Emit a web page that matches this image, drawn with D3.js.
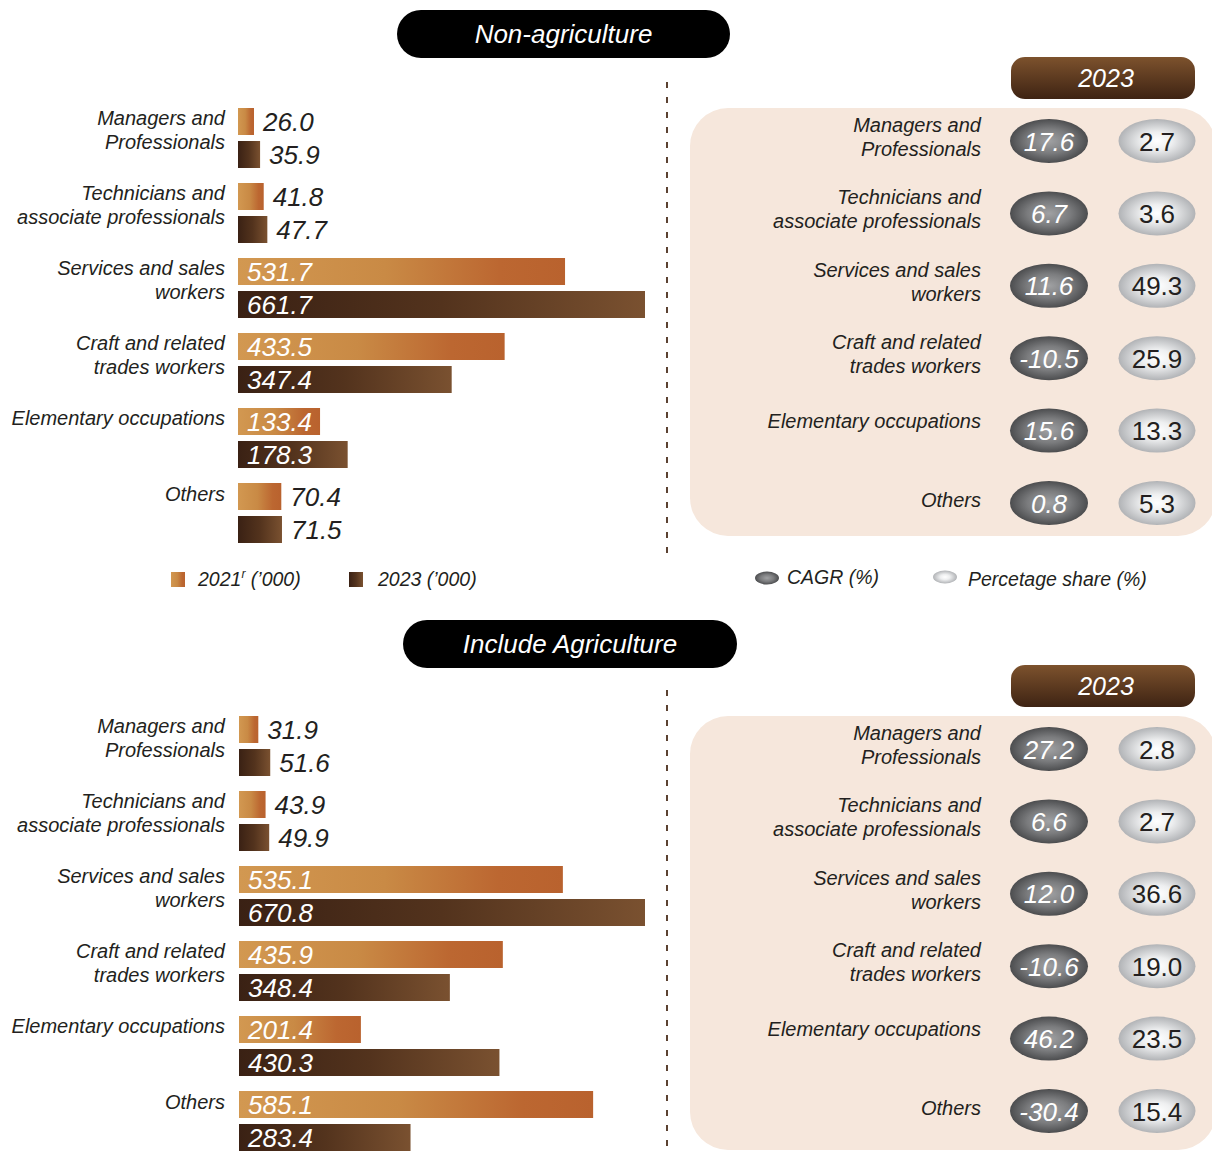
<!DOCTYPE html>
<html><head><meta charset="utf-8">
<script src="https://cdn.jsdelivr.net/npm/d3@7"></script>
<style>
html,body{margin:0;padding:0;background:#fff;}
text{font-family:"Liberation Sans",Arial,sans-serif;}
</style></head>
<body>
<script>
const categories = ["Managers and|Professionals","Technicians and|associate professionals","Services and sales|workers","Craft and related|trades workers","Elementary occupations","Others"];
const nonAg2021 = [26.0, 41.8, 531.7, 433.5, 133.4, 70.4];
const nonAg2023 = [35.9, 47.7, 661.7, 347.4, 178.3, 71.5];
const nonAgCagr = [17.6, 6.7, 11.6, -10.5, 15.6, 0.8];
const nonAgShare = [2.7, 3.6, 49.3, 25.9, 13.3, 5.3];
const inclAg2021 = [31.9, 43.9, 535.1, 435.9, 201.4, 585.1];
const inclAg2023 = [51.6, 49.9, 670.8, 348.4, 430.3, 283.4];
const inclAgCagr = [27.2, 6.6, 12.0, -10.6, 46.2, -30.4];
const inclAgShare = [2.8, 2.7, 36.6, 19.0, 23.5, 15.4];
const sectionTitles = ["Non-agriculture","Include Agriculture"];
const yearLabel = "2023";
const legendBar = ["2021", "2023 (’000)"];
const legendEll = ["CAGR (%)", "Percetage share (%)"];

const W = 1212, H = 1155;
const svg = d3.select("body").append("svg").attr("width", W).attr("height", H);
const defs = svg.append("defs");

function lin(id, stops, vertical){
  const g = defs.append("linearGradient").attr("id", id)
    .attr("x1",0).attr("y1",0).attr("x2",vertical?0:1).attr("y2",vertical?1:0);
  stops.forEach(s=>g.append("stop").attr("offset",s[0]).attr("stop-color",s[1]));
}
lin("g21", [[0,"#d29851"],[0.45,"#c98a45"],[0.8,"#bc6731"],[1,"#b9622e"]]);
lin("g23", [[0,"#3a2114"],[0.5,"#53331d"],[1,"#7a5130"]]);
lin("ghead", [[0,"#7d522d"],[1,"#3e2313"]], true);
function rad(id, stops){
  const g = defs.append("radialGradient").attr("id", id).attr("cx","50%").attr("cy","50%").attr("r","50%");
  stops.forEach(s=>g.append("stop").attr("offset",s[0]).attr("stop-color",s[1]));
}
rad("gdark", [[0,"#a0a1a3"],[0.55,"#7b7c7e"],[1,"#4c4d4f"]]);
rad("glight", [[0,"#ffffff"],[0.4,"#eeeff0"],[1,"#b1b3b6"]]);

const txtColor = "#231f20";

function section(opts){
  const {off, titleX0, titleX1, v21, v23, cagr, share, title, legend} = opts;
  const g = svg.append("g");
  // title pill
  g.append("rect").attr("x", titleX0).attr("y", 10+off.t).attr("width", titleX1-titleX0).attr("height", 48)
    .attr("rx", 24).attr("fill", "#000");
  g.append("text").attr("x", (titleX0+titleX1)/2).attr("y", 43+off.t).attr("text-anchor","middle")
    .attr("font-size", 26).attr("font-style","italic").attr("fill","#fff").text(title);

  const o = off.b;
  const y = d3.scaleBand().domain(categories).range([108+o, 108+o+450]);
  const xmax = d3.max(v21.concat(v23));
  const x0 = opts.barX;
  const x = d3.scaleLinear().domain([0, xmax]).range([0, 645 - x0]);
  const barH = 27;

  categories.forEach(c=>{
    const lines = c.split("|");
    const t = g.append("text").attr("text-anchor","end").attr("font-size",20).attr("font-style","italic").attr("fill",txtColor);
    lines.forEach((l,i)=>t.append("tspan").attr("x",225).attr("y", y(c)+17+(c==="Others"?1:0)+i*24).text(l));
  });

  const series = [{vals:v21, grad:"g21", dy:0},{vals:v23, grad:"g23", dy:33}];
  series.forEach(s=>{
    categories.forEach((c,i)=>{
      const v = s.vals[i];
      const yy = y(c)+s.dy;
      const w = x(v);
      g.append("rect").attr("x", x0).attr("y", yy).attr("width", w).attr("height", barH).attr("fill", `url(#${s.grad})`);
      const inside = v > 100;
      g.append("text").attr("x", inside ? x0+9 : x0+w+9).attr("y", yy+barH/2+9.5)
        .attr("font-size", 26).attr("font-style","italic").attr("fill", inside?"#fff":txtColor).text(v.toFixed(1));
    });
  });

  g.append("line").attr("x1",667).attr("x2",667).attr("y1",82+o).attr("y2",o===0?553:1150)
    .attr("stroke","#4a2e1c").attr("stroke-width",1.8).attr("stroke-dasharray","6,9");

  g.append("rect").attr("x",690).attr("y",108+o).attr("width",526).attr("height",o===0?428:434)
    .attr("rx",38).attr("fill","#f6e7dc");
  g.append("rect").attr("x",1011).attr("y",57+o).attr("width",184).attr("height",42).attr("rx",14).attr("fill","url(#ghead)");
  g.append("text").attr("x",1106).attr("y",87+o).attr("text-anchor","middle").attr("font-size",25)
    .attr("font-style","italic").attr("fill","#fff").text(yearLabel);

  const ry = d3.scalePoint().domain(categories).range([141+o, 503+o]);
  categories.forEach((c,i)=>{
    const cy = ry(c);
    const lines = c.split("|");
    const t = g.append("text").attr("text-anchor","end").attr("font-size",20).attr("font-style","italic").attr("fill",txtColor);
    if(lines.length===2){
      lines.forEach((l,k)=>t.append("tspan").attr("x",981).attr("y", cy-9+k*24).text(l));
    } else {
      t.append("tspan").attr("x",981).attr("y", cy+(c==="Others"?4:-3)).text(lines[0]);
    }
    g.append("ellipse").attr("cx",1049).attr("cy",cy).attr("rx",39).attr("ry",22).attr("fill","url(#gdark)");
    g.append("text").attr("x",1049).attr("y",cy+9.5).attr("text-anchor","middle").attr("font-size",26)
      .attr("font-style","italic").attr("fill","#fff").text(cagr[i].toFixed(1));
    g.append("ellipse").attr("cx",1157).attr("cy",cy).attr("rx",38.5).attr("ry",22).attr("fill","url(#glight)");
    g.append("text").attr("x",1157).attr("y",cy+9.5).attr("text-anchor","middle").attr("font-size",26)
      .attr("fill",txtColor).text(share[i].toFixed(1));
  });

  if(legend){
    const ly = 579;
    g.append("rect").attr("x",171).attr("y",ly-7).attr("width",14).attr("height",15).attr("fill","url(#g21)");
    const t1 = g.append("text").attr("x",198).attr("y",ly+7).attr("font-size",19.5).attr("font-style","italic").attr("fill",txtColor);
    t1.append("tspan").text(legendBar[0]);
    t1.append("tspan").attr("font-size",12).attr("dy",-8).text("r");
    t1.append("tspan").attr("dy",8).text(" (’000)");
    g.append("rect").attr("x",349).attr("y",ly-7).attr("width",14).attr("height",15).attr("fill","url(#g23)");
    g.append("text").attr("x",378).attr("y",ly+7).attr("font-size",19.5).attr("font-style","italic").attr("fill",txtColor).text(legendBar[1]);
    g.append("ellipse").attr("cx",767).attr("cy",578).attr("rx",12).attr("ry",6.5).attr("fill","url(#gdark)");
    g.append("text").attr("x",787).attr("y",ly+5).attr("font-size",19.5).attr("font-style","italic").attr("fill",txtColor).text(legendEll[0]);
    g.append("ellipse").attr("cx",945).attr("cy",577).attr("rx",12).attr("ry",6.5).attr("fill","url(#glight)");
    g.append("text").attr("x",968).attr("y",ly+7).attr("font-size",19.5).attr("font-style","italic").attr("fill",txtColor).text(legendEll[1]);
  }
}

section({off:{t:0,b:0}, titleX0:397, titleX1:730, barX:238, v21:nonAg2021, v23:nonAg2023, cagr:nonAgCagr, share:nonAgShare, title:sectionTitles[0], legend:true});
section({off:{t:610,b:608}, titleX0:403, titleX1:737, barX:239, v21:inclAg2021, v23:inclAg2023, cagr:inclAgCagr, share:inclAgShare, title:sectionTitles[1], legend:false});
</script>
</body></html>
